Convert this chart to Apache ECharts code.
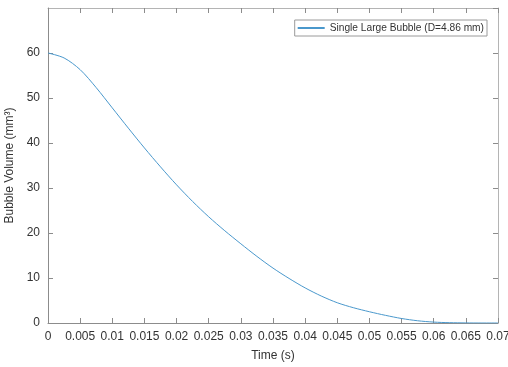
<!DOCTYPE html>
<html>
<head>
<meta charset="utf-8">
<script src="https://cdn.jsdelivr.net/npm/echarts@6/dist/echarts.min.js"></script>
</head>
<body style="margin:0;background:#fff">
<div id="chart" style="width:508px;height:367px"></div>
<script>
// values
const timeS = [0, 0.0025, 0.005, 0.0075, 0.01, 0.0125, 0.015, 0.0175, 0.02, 0.0225, 0.025, 0.0275, 0.03, 0.0325, 0.035, 0.0375, 0.04, 0.0425, 0.045, 0.0475, 0.05, 0.0525, 0.055, 0.0575, 0.06, 0.0625, 0.065, 0.0675, 0.07];
const volume = [60, 58.9, 56.3, 52.3, 47.8, 43.3, 38.9, 34.7, 30.7, 27.0, 23.6, 20.5, 17.6, 14.8, 12.2, 9.9, 7.8, 6.0, 4.5, 3.4, 2.5, 1.7, 1.0, 0.5, 0.2, 0.07, 0.02, 0, 0];
const seriesName = 'Single Large Bubble (D=4.86 mm)';

const chart = echarts.init(document.getElementById('chart'));
const font = 'Liberation Sans, Arial, sans-serif';
const axisCol = '#8c8c8c';
const boxCol = '#b4b4b4';

const baseX = {
  type: 'value', min: 0, max: 0.07, interval: 0.005,
  axisLine: { show: true, onZero: false, lineStyle: { color: axisCol, width: 1 } },
  axisTick: { show: true, inside: true, length: 5, lineStyle: { color: axisCol } },
  splitLine: { show: false }
};
const baseY = {
  type: 'value', min: 0, max: 70, interval: 10,
  axisLine: { show: true, onZero: false, lineStyle: { color: axisCol, width: 1 } },
  axisTick: { show: true, inside: true, length: 5, lineStyle: { color: axisCol } },
  splitLine: { show: false }
};

chart.setOption({
  animation: false,
  textStyle: { fontFamily: font },
  grid: { left: 48, right: 10, top: 8, bottom: 44, outerBoundsMode: 'none', containLabel: false },
  legend: {
    right: 21, top: 20,
    itemWidth: 27, itemHeight: 2, itemGap: 4,
    icon: 'rect',
    padding: [3, 3, 3, 3],
    borderColor: '#9a9a9a', borderWidth: 1, borderRadius: 0,
    backgroundColor: '#fff',
    textStyle: { fontSize: 10.2, color: '#333', fontFamily: font },
    data: [seriesName]
  },
  xAxis: [
    Object.assign({}, baseX, {
      position: 'bottom',
      name: 'Time (s)', nameLocation: 'middle', nameGap: 27,
      nameTextStyle: { fontSize: 12, color: '#333' },
      axisLabel: {
        fontSize: 12, color: '#333', margin: 8,
        formatter: v => String(+v.toFixed(3))
      }
    }),
    Object.assign({}, baseX, {
      position: 'top', axisLabel: { show: false },
      axisLine: { show: true, onZero: false, lineStyle: { color: boxCol, width: 1 } }
    })
  ],
  yAxis: [
    Object.assign({}, baseY, {
      position: 'left',
      name: 'Bubble Volume (mm³)', nameLocation: 'middle', nameGap: 28,
      nameTextStyle: { fontSize: 12, color: '#333' },
      axisLabel: { fontSize: 12, color: '#333', margin: 8, showMaxLabel: false }
    }),
    Object.assign({}, baseY, {
      position: 'right', axisLabel: { show: false },
      axisLine: { show: true, onZero: false, lineStyle: { color: boxCol, width: 1 } }
    })
  ],
  series: [{
    name: seriesName,
    type: 'line',
    xAxisIndex: 0, yAxisIndex: 0,
    smooth: 0.3,
    showSymbol: false,
    lineStyle: { color: '#4a98cc', width: 1 },
    itemStyle: { color: '#4a98cc' },
    data: timeS.map((t, i) => [t, volume[i]])
  }]
});
</script>
</body>
</html>
